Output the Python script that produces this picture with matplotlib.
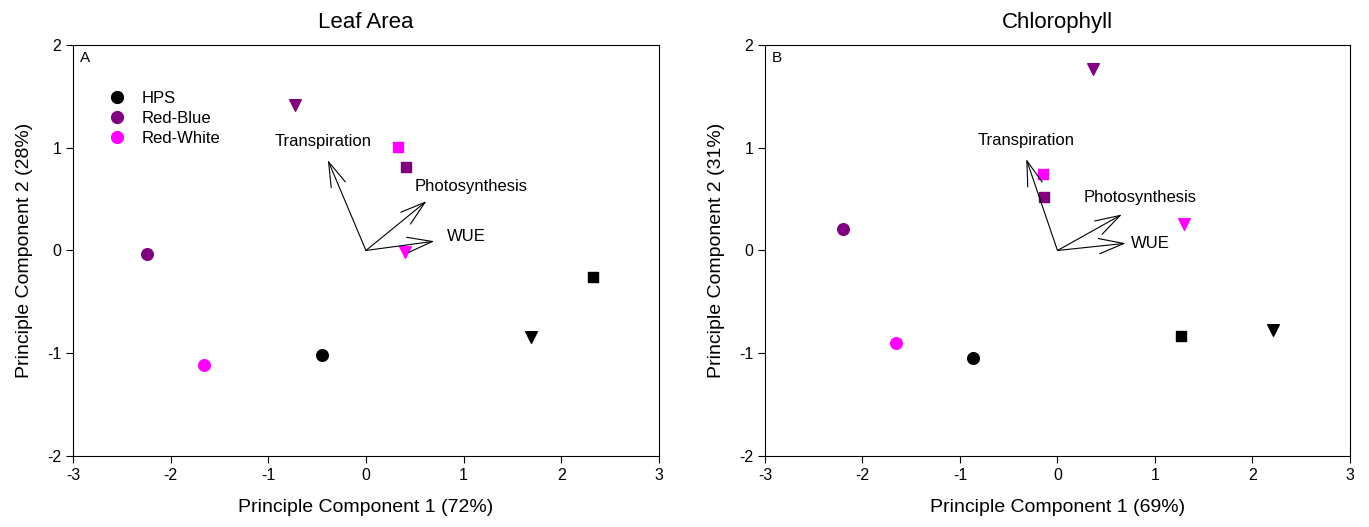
from matplotlib import pyplot as plt
from matplotlib.lines import Line2D

plt.rcParams['font.family'] = ['Liberation Sans', 'DejaVu Sans']
plt.rcParams['axes.unicode_minus'] = False

groups = ["HPS", "Red-Blue", "Red-White"]
colors = ["#000000", "#800080", "#ff00ff"]

# panel A: leaf area (circle, square, triangle per group)
leaf_circle_x = [-0.45, -2.24, -1.66]
leaf_circle_y = [-1.02, -0.03, -1.11]
leaf_square_x = [2.33, 0.41, 0.33]
leaf_square_y = [-0.26, 0.81, 1.01]
leaf_tri_x = [1.69, -0.73, 0.40]
leaf_tri_y = [-0.84, 1.42, -0.01]

# panel B: chlorophyll
chl_circle_x = [-0.87, -2.20, -1.66]
chl_circle_y = [-1.05, 0.21, -0.90]
chl_square_x = [1.27, -0.14, -0.15]
chl_square_y = [-0.83, 0.52, 0.74]
chl_tri_x = [2.21, 0.36, 1.30]
chl_tri_y = [-0.77, 1.77, 0.26]

vectors = ["Transpiration", "Photosynthesis", "WUE"]
leaf_vec_x = [-0.39, 0.62, 0.70]
leaf_vec_y = [0.88, 0.48, 0.09]
leaf_lab_x = [-0.44, 1.08, 1.03]
leaf_lab_y = [1.06, 0.62, 0.14]
chl_vec_x = [-0.32, 0.66, 0.70]
chl_vec_y = [0.89, 0.35, 0.07]
chl_lab_x = [-0.32, 0.85, 0.95]
chl_lab_y = [1.07, 0.52, 0.07]


def plot_panel(ax, title, letter, xlabel, ylabel, cx, cy, sx, sy, tx, ty,
               vx, vy, lx, ly, legend=False):
    for i in range(3):
        ax.scatter(cx[i], cy[i], marker="o", s=70, color=colors[i], zorder=3)
        ax.scatter(sx[i], sy[i], marker="s", s=50, color=colors[i], zorder=3)
        ax.scatter(tx[i], ty[i], marker="v", s=70, color=colors[i], zorder=3)

    for i, name in enumerate(vectors):
        ax.annotate("", xy=(vx[i], vy[i]), xytext=(0, 0),
                    arrowprops=dict(arrowstyle="->,head_length=1.8,head_width=0.55",
                                    lw=0.8, color="black", shrinkA=0, shrinkB=0,
                                    mutation_scale=10))
        ax.text(lx[i], ly[i], name, fontsize=12, ha="center", va="center")

    ax.text(0.012, 0.985, letter, transform=ax.transAxes, fontsize=11,
            ha="left", va="top")

    ax.set_xlim(-3, 3)
    ax.set_ylim(-2, 2)
    ax.set_xticks(range(-3, 4))
    ax.set_yticks(range(-2, 3))
    ax.tick_params(direction="out", length=5, labelsize=11.5)
    ax.set_xlabel(xlabel, fontsize=14, labelpad=12)
    ax.set_ylabel(ylabel, fontsize=14, labelpad=10)
    ax.set_title(title, fontsize=16, pad=12)

    if legend:
        handles = [Line2D([], [], marker="o", ls="", color=c, markersize=8.5)
                   for c in colors]
        ax.legend(handles, groups, loc="upper left", bbox_to_anchor=(0.035, 0.905),
                  frameon=False, fontsize=12, handletextpad=0.5,
                  labelspacing=0.3, borderaxespad=0)


def main():
    fig = plt.figure(figsize=(13.69, 5.27), dpi=100)
    ax_a = fig.add_axes([0.0533, 0.1347, 0.428, 0.78])
    ax_b = fig.add_axes([0.5588, 0.1347, 0.4273, 0.78])

    plot_panel(ax_a, "Leaf Area", "A", "Principle Component 1 (72%)",
               "Principle Component 2 (28%)", leaf_circle_x, leaf_circle_y,
               leaf_square_x, leaf_square_y, leaf_tri_x, leaf_tri_y,
               leaf_vec_x, leaf_vec_y, leaf_lab_x, leaf_lab_y, legend=True)
    plot_panel(ax_b, "Chlorophyll", "B", "Principle Component 1 (69%)",
               "Principle Component 2 (31%)", chl_circle_x, chl_circle_y,
               chl_square_x, chl_square_y, chl_tri_x, chl_tri_y,
               chl_vec_x, chl_vec_y, chl_lab_x, chl_lab_y)

    fig.savefig("out.png", dpi=100)


if __name__ == '__main__':
    main()
